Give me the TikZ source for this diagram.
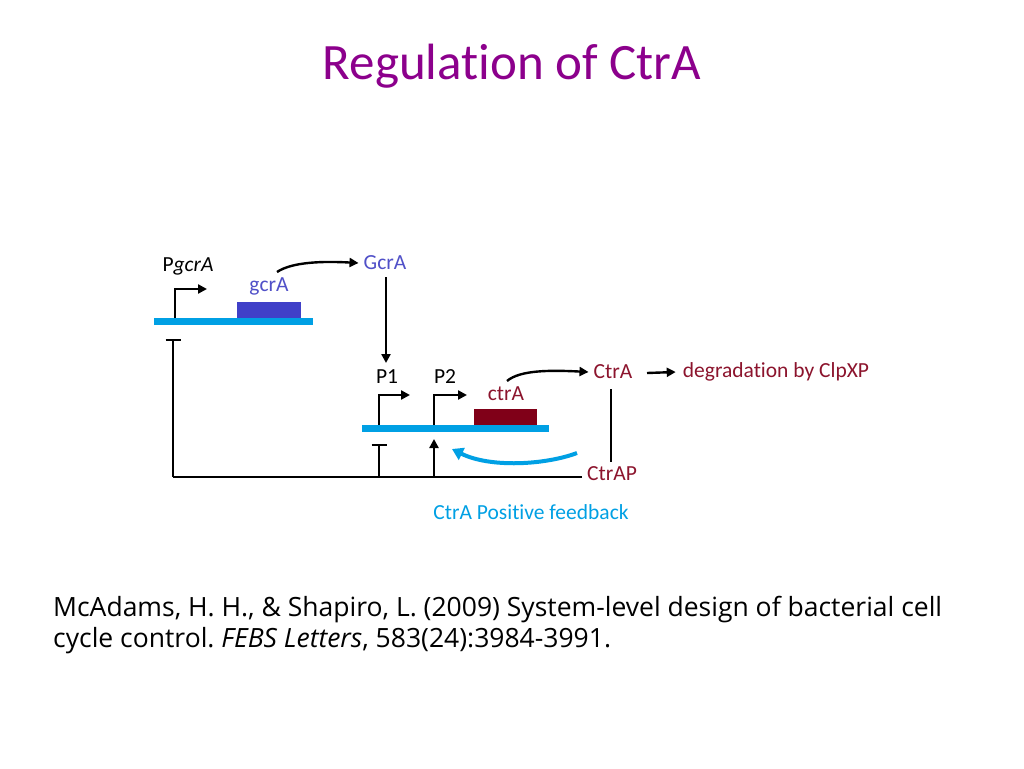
\documentclass[tikz,border=0pt]{standalone}
\usepackage{fontspec}
\setmainfont[RawFeature={-liga;-clig;-dlig}]{Carlito}
\newfontfamily\citefont{Open Sans}
\usetikzlibrary{arrows.meta}
\definecolor{titlepurple}{RGB}{140,0,140}
\definecolor{genecyan}{RGB}{0,160,228}
\definecolor{gcrbox}{RGB}{64,64,200}
\definecolor{gcrtext}{RGB}{80,80,200}
\definecolor{ctrbox}{RGB}{128,0,24}
\definecolor{ctrtext}{RGB}{140,20,45}
\frenchspacing
\begin{document}
\begin{tikzpicture}[x=1pt,y=-1pt,
  lbl/.style={inner sep=0pt,font=\fontsize{21.5}{25}\selectfont},
  cite/.style={inner sep=0pt,anchor=base west,font=\citefont\fontsize{26.5}{31}\selectfont},
  dna/.style={fill=genecyan,draw=none},
  conn/.style={line width=2.4pt,black},
  arr/.style={conn,-{Triangle[length=9pt,width=9pt]}},
  inhib/.style={conn,-{Bar[width=15pt]}},
  fb/.style={line width=4pt,genecyan,-{Triangle[length=11pt,width=13pt]}}]
\useasboundingbox (0,0) rectangle (1024,768);
\fill[white] (0,0) rectangle (1024,768);

% title
\node[inner sep=0pt,text=titlepurple,font=\fontsize{51}{60}\selectfont] (title) at (512,66) {Regulation of CtrA};

% gene 1
\fill[dna] (154,318) rectangle (313,325);
\fill[gcrbox] (237,302) rectangle (301,318);
\coordinate (pg0) at (175,318);
\coordinate (pg1) at (175,289);
\coordinate (pg2) at (207,289);
\draw[arr] (pg0) -- (pg1) -- (pg2);
\node[lbl,text=black] (PgcrA) at (188,266) {P\textit{gcrA}};
\node[lbl,text=gcrtext] (gcrA) at (269,286) {gcrA};
\node[lbl,text=gcrtext] (GcrA) at (385,263) {GcrA};
\coordinate (g1) at (277,272);
\draw[arr] (g1) .. controls (292,262) and (322,261) .. ([xshift=-5pt]GcrA.west);
\coordinate (gd) at (386,277);
\coordinate (gdend) at (386,363);
\node[lbl] (P1) at (387,377) {P1};
\node[lbl] (P2) at (445,377) {P2};
\draw[arr] (gd) -- (gdend);

% gene 2
\fill[dna] (362,425) rectangle (549,432);
\fill[ctrbox] (474,409) rectangle (537,425);
\coordinate (p10) at (379,425);
\coordinate (p11) at (379,395);
\coordinate (p12) at (410,395);
\draw[arr] (p10) -- (p11) -- (p12);
\coordinate (p20) at (434,425);
\coordinate (p21) at (434,395);
\coordinate (p22) at (467,395);
\draw[arr] (p20) -- (p21) -- (p22);
\node[lbl,text=ctrtext] (ctrA) at (506,394) {ctrA};
\node[lbl,text=ctrtext] (CtrA) at (613,372) {CtrA};
\node[lbl,text=ctrtext] (deg) at (776,372) {degradation by ClpXP};
\node[lbl,text=ctrtext] (CtrAP) at (612,474) {CtrAP};
\coordinate (c1) at (507,381);
\draw[arr] (c1) .. controls (520,370) and (550,370) .. ([xshift=-5pt]CtrA.west);
\coordinate (d0) at (647,373);
\draw[arr] (d0) -- ([xshift=-7pt]deg.west);
\coordinate (v0) at (611,389);
\coordinate (v1) at (611,462);
\draw[conn] (v0) -- (v1);

% feedback lines
\coordinate (fl) at (173,477);
\coordinate (fr) at (582,477);
\coordinate (ftop) at (173,339);
\coordinate (i1b) at (379,477);
\coordinate (i1t) at (379,444);
\coordinate (a2b) at (434,477);
\coordinate (a2t) at (434,439);
\draw[conn] (fr) -- (fl);
\draw[inhib] (fl) -- (ftop);
\draw[inhib] (i1b) -- (i1t);
\draw[arr] (a2b) -- (a2t);

% positive feedback curved arrow
\coordinate (b0) at (577,453);
\coordinate (b1) at (452,449);
\draw[fb] (b0) .. controls (545,465) and (490,468) .. (b1);
\node[lbl,text=genecyan] (pf) at (531,512) {CtrA Positive feedback};

% citation
\node[cite] (cite1) at (53,616) {McAdams, H. H., \& Shapiro, L. (2009) System-level design of bacterial cell};
\node[cite] (cite2) at (53,647) {cycle control. \textit{FEBS Letters}, 583(24):3984-3991.};
\end{tikzpicture}
\end{document}
